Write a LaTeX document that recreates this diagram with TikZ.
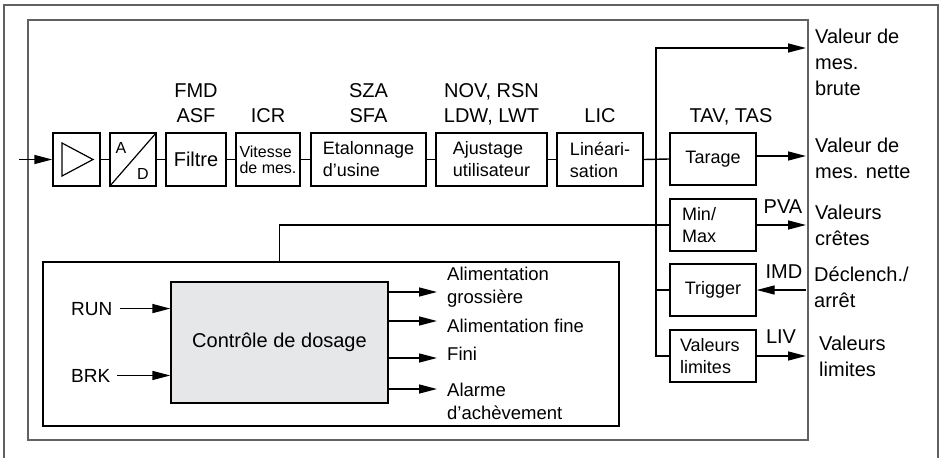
\documentclass[tikz,border=0pt]{standalone}
\usepackage{fontspec}
\setmainfont{Liberation Sans}
\usetikzlibrary{arrows.meta,positioning}
\definecolor{ctrlfill}{RGB}{230,231,232}
\tikzstyle{frame}=[
  draw=black!62, line width=1.3pt
]
\tikzstyle{wire}=[
  line width=1.4pt
]
\tikzstyle{arr}=[
  line width=1.4pt, -{Triangle[length=18pt,width=9pt]}
]
\tikzstyle{toplbl}=[
  inner sep=0pt, align=center, anchor=base, font=\fontsize{20}{25}\selectfont
]
\tikzstyle{sidelbl}=[
  inner sep=0pt, align=left, anchor=base west, font=\fontsize{20}{26}\selectfont
]

\begin{document}
\begin{tikzpicture}[x=1pt,y=-1pt,
    block/.style={draw, line width=1.4pt, rectangle, inner sep=0pt, minimum height=53pt, align=left, font=\fontsize{18}{22}\selectfont},
    sideblock/.style={block, minimum width=86pt, minimum height=52pt},
    outlbl/.style={inner sep=0pt, align=left, anchor=base west, font=\fontsize{18.5}{23}\selectfont},
    ]
    \useasboundingbox (0,0) rectangle (942,458);
    %Frames
    \draw[frame] (4,458) -- (4,5) -- (938,5) -- (938,458);
    \draw[frame] (28,20) rectangle (808,440);

    %Nodes
    \node[block, minimum width=47pt] (amp)  at (76.5,159.5) {};
    \node[block, minimum width=46pt] (ad)   at (133,159.5)  {};
    \node[block, minimum width=60pt, font=\fontsize{20}{22}\selectfont] (filt) at (196,159.5) {Filtre};
    \node[block, minimum width=64pt, font=\fontsize{16}{16}\selectfont] (vit)  at (268,159.5) {Vitesse\\de mes.};
    \node[block, minimum width=115pt] (etal) at (368.5,159.5) {Etalonnage\\d'usine};
    \node[block, minimum width=111pt] (adj)  at (491.5,159.5) {Ajustage\\utilisateur};
    \node[block, minimum width=86pt]  (lin)  at (600,159.5)   {Lin\'eari-\\sation};

    \node[sideblock, align=center] (tar)    at (713,159) {Tarage};
    \node[sideblock, text width=62pt] (minmax) at (713,225) {Min/\\Max};
    \node[sideblock, align=center] (trig)   at (713,290) {Trigger};
    \node[sideblock, text width=66pt] (lim)    at (713,356) {Valeurs\\limites};

    \node[draw, line width=1.3pt, rectangle, minimum width=576pt, minimum height=164pt] (dos) at (331,344) {};
    \node[draw, line width=1.3pt, rectangle, fill=ctrlfill, minimum width=217pt, minimum height=121pt, font=\fontsize{20}{24}\selectfont] (ctrl) at (279.5,342.5) {Contr\^ole de dosage};

    %Inner marks
    \draw[line width=1.2pt] ([shift={(-14.5,-16.5)}]amp.center) -- ([shift={(16.5,0)}]amp.center) -- ([shift={(-14.5,16.5)}]amp.center) -- cycle;
    \draw[line width=1.2pt] (ad.south west) -- (ad.north east);
    \node[inner sep=0pt, font=\fontsize{16}{16}\selectfont] (adA) at (121,147.5) {A};
    \node[inner sep=0pt, font=\fontsize{16}{16}\selectfont] (adD) at (143,174)   {D};

    %Labels (base = last line)
    \node[toplbl] (fmd)  at (196,122)   {FMD\\ASF};
    \node[toplbl] (icr)  at (268,122)   {ICR};
    \node[toplbl] (sza)  at (368.5,122) {SZA\\SFA};
    \node[toplbl] (nov)  at (491.5,122) {NOV, RSN\\LDW, LWT};
    \node[toplbl] (lic)  at (600,122)   {LIC};
    \node[toplbl] (tav)  at (731,122)   {TAV, TAS};
    \node[toplbl] (pva)  at (783,213)   {PVA};
    \node[toplbl] (imd)  at (784,278)   {IMD};
    \node[toplbl] (liv)  at (781,343)   {LIV};

    \node[sidelbl] (raw)   at (815,95)  {Valeur de\\mes.\\brute};
    \node[sidelbl] (net)   at (815,178) {Valeur de\\mes. nette};
    \node[sidelbl] (peak)  at (815,245) {Valeurs\\cr\^etes};
    \node[sidelbl] (stop)  at (814,307) {D\'eclench./\\arr\^et};
    \node[sidelbl] (limit) at (819,376) {Valeurs\\limites};

    \node[inner sep=0pt, anchor=base west, font=\fontsize{19}{19}\selectfont] (run) at (71,315) {RUN};
    \node[inner sep=0pt, anchor=base west, font=\fontsize{19}{19}\selectfont] (brk) at (71,382) {BRK};

    \node[outlbl] (coarse) at (447,303) {Alimentation\\grossi\`ere};
    \node[outlbl] (fine)   at (447,332) {Alimentation fine};
    \node[outlbl] (done)   at (447,360) {Fini};
    \node[outlbl] (alarm)  at (447,419) {Alarme\\d'ach\`evement};

    %Coordinates
    \coordinate (in)      at (19,159.5);
    \coordinate (jtop)    at (656,48);
    \coordinate (rawout)  at (806,48);
    \coordinate (netout)  at (806,156);
    \coordinate (trigin)  at (806,290);
    \coordinate (o1) at (437,292);
    \coordinate (o2) at (437,321);
    \coordinate (o3) at (437,358);
    \coordinate (o4) at (437,389);

    %Lines
    \draw[arr] (in) -- (amp.west);
    \draw[wire] (amp.east) -- (ad.west);
    \draw[wire] (ad.east) -- (filt.west);
    \draw[wire] (filt.east) -- (vit.west);
    \draw[wire] (vit.east) -- (etal.west);
    \draw[wire] (etal.east) -- (adj.west);
    \draw[wire] (adj.east) -- (lin.west);
    \draw[wire] (lin.east) -- (tar.west);
    \draw[arr] (lim.west) -| (jtop) -- (rawout);
    \draw[wire] (trig.west) -- (trig.west -| jtop);
    \draw[arr] (tar.east |- netout) -- (netout);
    \draw[arr] (minmax.east) -- (minmax.east -| rawout);
    \draw[arr] (trigin) -- (trig.east);
    \draw[arr] (lim.east) -- (lim.east -| rawout);
    \draw[wire] (ctrl.north |- dos.north) |- (minmax.west);

    \draw[arr] ([xshift=7pt]run.east) -- (run.east -| ctrl.west);
    \draw[arr] ([xshift=7pt]brk.east) -- (brk.east -| ctrl.west);
    \draw[arr] (o1 -| ctrl.east) -- (o1);
    \draw[arr] (o2 -| ctrl.east) -- (o2);
    \draw[arr] (o3 -| ctrl.east) -- (o3);
    \draw[arr] (o4 -| ctrl.east) -- (o4);
\end{tikzpicture}
\end{document}
